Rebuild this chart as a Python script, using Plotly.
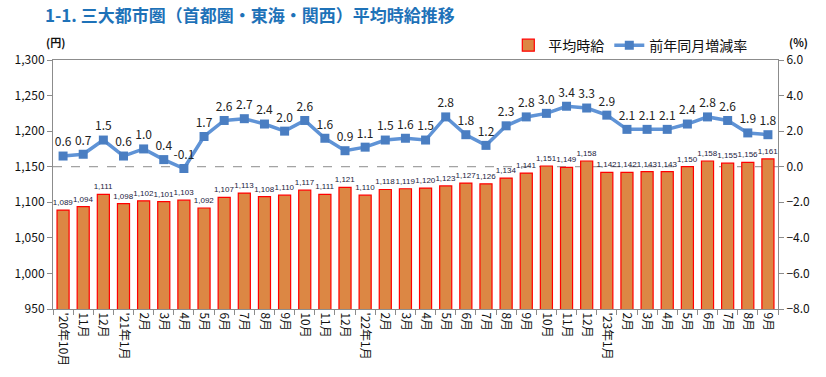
import plotly.graph_objects as go

months = ["'20年10月", "11月", "12月", "'21年1月", "2月", "3月", "4月", "5月", "6月", "7月", "8月", "9月",
          "10月 ", "11月 ", "12月 ", "'22年1月", "2月 ", "3月 ", "4月 ", "5月 ", "6月 ", "7月 ", "8月 ", "9月 ",
          "10月  ", "11月  ", "12月  ", "'23年1月", "2月  ", "3月  ", "4月  ", "5月  ", "6月  ", "7月  ", "8月  ", "9月  "]

avg_wage = [1089, 1094, 1111, 1098, 1102, 1101, 1103, 1092, 1107, 1113, 1108, 1110,
            1117, 1111, 1121, 1110, 1118, 1119, 1120, 1123, 1127, 1126, 1134, 1141,
            1151, 1149, 1158, 1142, 1142, 1143, 1143, 1150, 1158, 1155, 1156, 1161]

yoy_rate = [0.6, 0.7, 1.5, 0.6, 1.0, 0.4, -0.1, 1.7, 2.6, 2.7, 2.4, 2.0,
            2.6, 1.6, 0.9, 1.1, 1.5, 1.6, 1.5, 2.8, 1.8, 1.2, 2.3, 2.8,
            3.0, 3.4, 3.3, 2.9, 2.1, 2.1, 2.1, 2.4, 2.8, 2.6, 1.9, 1.8]

zero_rate = 0.0

FONT = "Noto Sans CJK JP"

fig = go.Figure()
fig.add_trace(go.Bar(
    x=months, y=avg_wage, name="平均時給",
    marker=dict(color="#DC8744", line=dict(color="#FF0000", width=1.2)),
    width=0.6,
    text=[f"{v:,}" for v in avg_wage], textposition="outside",
    textfont=dict(size=8, color="#1a1a40", family="Liberation Sans"),
    constraintext="none",
    cliponaxis=False,
))
fig.add_trace(go.Scatter(
    x=months, y=yoy_rate, name="前年同月増減率", yaxis="y2",
    mode="lines+markers+text",
    line=dict(color="#5F93D6", width=3.5),
    marker=dict(symbol="square", size=9, color="#4A7EC2"),
    text=[f"{v:.1f}" for v in yoy_rate], textposition="top center",
    textfont=dict(size=12, color="#222222", family=FONT),
    cliponaxis=False,
))

fig.add_shape(type="line", xref="paper", x0=0, x1=1, yref="y2", y0=zero_rate, y1=zero_rate,
              line=dict(color="#8c8c8c", width=1, dash="dash"), layer="below")

fig.update_layout(
    width=826, height=377,
    margin=dict(l=53, r=48, t=60, b=68, autoexpand=False),
    paper_bgcolor="white", plot_bgcolor="white",
    font=dict(family=FONT, color="#111111"),
    bargap=0.4,
    title=dict(text="<b>1-1. 三大都市圏（首都圏・東海・関西）平均時給推移</b>",
               x=45/826, xanchor="left", xref="container",
               y=1-16/377, yanchor="middle", yref="container",
               font=dict(size=17, color="#1E72B8", family=FONT)),
    showlegend=True,
    legend=dict(orientation="h", x=0.628, xanchor="left", y=1.058, yanchor="middle",
                font=dict(size=14, color="#111111", family=FONT),
                bgcolor="rgba(0,0,0,0)", itemwidth=30, traceorder="normal"),
    xaxis=dict(type="category", range=[-0.5, len(months) - 0.5],
               showline=True, linecolor="#8c8c8c", linewidth=1,
               mirror=True, ticks="outside", tickson="boundaries", ticklen=5,
               tickcolor="#8c8c8c", tickangle=90, tickfont=dict(size=12, family=FONT),
               showgrid=False, automargin=False),
    yaxis=dict(range=[950, 1300], dtick=50, tickformat=",", showline=True,
               linecolor="#8c8c8c", ticks="outside", ticklen=5, tickcolor="#8c8c8c",
               showgrid=False, zeroline=False, tickfont=dict(size=12, family=FONT),
               automargin=False),
    yaxis2=dict(range=[-8, 6], dtick=2, tickformat=".1f", overlaying="y", side="right",
                showline=True, linecolor="#8c8c8c", ticks="outside", ticklen=5,
                tickcolor="#8c8c8c", showgrid=False, zeroline=False,
                tickfont=dict(size=12, family=FONT), automargin=False),
    annotations=[
        dict(text="<b>(円)</b>", xref="paper", yref="paper", x=-0.012, y=1.072,
             xanchor="left", yanchor="middle", showarrow=False, font=dict(size=11)),
        dict(text="<b>(%)</b>", xref="paper", yref="paper", x=1.012, y=1.072,
             xanchor="left", yanchor="middle", showarrow=False, font=dict(size=11)),
    ],
)

fig.write_html("out.html", config={"displayModeBar": False},
               post_script="document.body.style.margin='0';document.body.style.overflow='hidden';document.documentElement.style.overflow='hidden';")
